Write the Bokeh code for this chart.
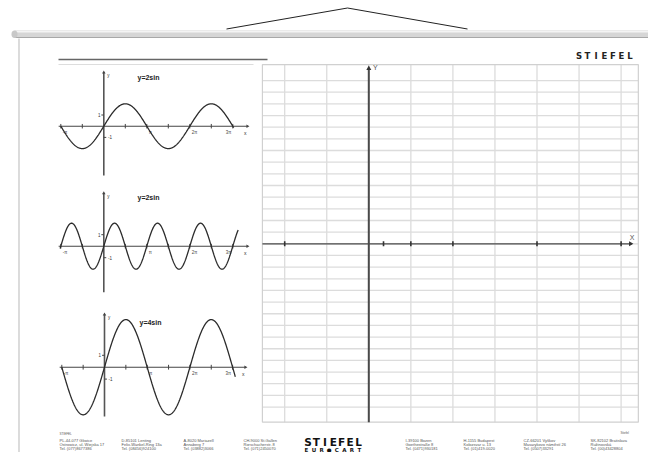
import numpy as np
from bokeh.plotting import figure
from bokeh.models import Range1d
from bokeh.embed import file_html
from bokeh.resources import INLINE
from bokeh.core.properties import value

# ---------------- data ----------------
panel_titles = ["y=2sin", "y=2sin", "y=4sin"]
panel_amplitude = [2, 2, 4]
panel_frequency = [1, 2, 1]
panel_x_start = [-1.0, -1.016, -1.0]   # multiples of pi
panel_x_end = [3.02, 3.124, 3.064]     # multiples of pi
half_pi_ticks = [-2, -1, 1, 2, 3, 4, 5, 6]
pi_labels = ["-π", "π", "2π", "3π"]
pi_label_at = [-1, 1, 2, 3]
unit_labels = ["1", "-1"]
unit_label_at = [1, -1]

grid_x_lines = [-2, -1, 0, 1, 2, 3, 4, 5, 6]
grid_y_lines = list(range(-14, 15))
grid_x_ticks = [-2, 0.35, 1, 2, 4, 6]

brand = list("STIEFEL")
brand_sub = ["E", "U", "R", "●", "C", "A", "R", "T"]
addresses = [
    ["PL-44-077 Gliwice", "Ostrowicz, ul. Wiejska 17", "Tel. (077)8677386"],
    ["D-85101 Lenting", "Felix-Wankel-Ring 13a", "Tel. (08456)924100"],
    ["A-8020 Mariazell", "Annaberg 7", "Tel. (03882)3066"],
    ["CH-9000 St.Gallen", "Rorschacherstr. 8", "Tel. (071)2450070"],
    ["I-39100 Bozen", "Goethestraße 8", "Tel. (0471)930181"],
    ["H-1155 Budapest", "Kolozsvar u. 13", "Tel. (01)419-0020"],
    ["CZ-66201 Vyškov", "Masarykovo náměstí 26", "Tel. (0507)33291"],
    ["SK-82102 Bratislava", "Ružinovská", "Tel. (00)43428804"],
]

# ---------------- layout (pixel space of the picture) ----------------
FONT = value("Liberation Sans")
LOGO_FONT = value("DejaVu Sans")
XL, XR, YB, YT = 0, 648, 452, 0
P_ORIG = [(103.3, 125.7), (103.3, 245.7), (104.0, 366.7)]
P_SX = [43 / np.pi, 43 / np.pi, 42.7 / np.pi]
P_SY = [11.2, 11.5, 11.9]
P_YAX = [(-4.4, 4.8), (-4.0, 4.6), (-4.14, 4.43)]
P_XAX = [(-1.05, 3.34), (-1.05, 3.34), (-1.05, 3.30)]
P_TITLE = [(137, 77), (137, 196.7), (139, 321.7)]

G_ORIG = (368.3, 243.3)
G_SX, G_SY = 42.05, 11.66
G_LEFT, G_RIGHT, G_TOP, G_BOTTOM = -2.53, 6.41, 15.37, -15.3

xr, yr = {}, {}
for i, (ox, oy) in enumerate(P_ORIG):
    xr[f"p{i}x"] = Range1d((XL - ox) / P_SX[i], (XR - ox) / P_SX[i])
    yr[f"p{i}y"] = Range1d((oy - YB) / P_SY[i], (oy - YT) / P_SY[i])
xr["gx"] = Range1d((XL - G_ORIG[0]) / G_SX, (XR - G_ORIG[0]) / G_SX)
yr["gy"] = Range1d((G_ORIG[1] - YB) / G_SY, (G_ORIG[1] - YT) / G_SY)

p = figure(width=648, height=452, output_backend="svg", toolbar_location=None,
           x_range=Range1d(XL, XR), y_range=Range1d(YB, YT),
           x_axis_type=None, y_axis_type=None, min_border=0)
p.outline_line_color = None
p.background_fill_color = "white"
p.border_fill_color = "white"
p.extra_x_ranges = xr
p.extra_y_ranges = yr

# ---------------- hanger, rod, page ----------------
p.line([226, 347, 467], [28.5, 7.5, 28.5], line_color="#222222", line_width=1)
p.quad(left=[14], right=[664], top=[30], bottom=[37.5], fill_color="#d6d6d6", line_color=None)
p.segment(x0=[14], y0=[31.3], x1=[664], y1=[31.3], line_color="#f4f4f4", line_width=1.6)
p.segment(x0=[14], y0=[37], x1=[664], y1=[37], line_color="#a8a8a8", line_width=1)
p.ellipse(x=[14], y=[33.7], width=6, height=7.5, fill_color="#c8c8c8", line_color=None)
p.segment(x0=[18.5], y0=[38], x1=[18.5], y1=[460], line_color="#c4c4c4", line_width=1.2)

# header
p.segment(x0=[58], y0=[59], x1=[267], y1=[59], line_color="#666666", line_width=1.3)
p.segment(x0=[58], y0=[64], x1=[253], y1=[64], line_color="#dddddd", line_width=1)
p.text(x=list(np.linspace(578.5, 629.5, len(brand))), y=[55.5] * len(brand), text=brand,
       text_font=LOGO_FONT, text_font_style="bold", text_font_size="8.5px",
       text_align="center", text_baseline="middle", text_color="#222222")

# ---------------- sine panels ----------------
for i in range(3):
    xn, yn = f"p{i}x", f"p{i}y"
    kw = dict(x_range_name=xn, y_range_name=yn)
    x0, x1 = P_XAX[i]
    y0, y1 = P_YAX[i]
    ax_col = "#444444"
    p.segment(x0=[x0 * np.pi], y0=[0], x1=[x1 * np.pi], y1=[0], line_color=ax_col, line_width=1.1, **kw)
    p.segment(x0=[0], y0=[y0], x1=[0], y1=[y1], line_color="#555555", line_width=1.6, **kw)
    t = np.array(half_pi_ticks) * np.pi / 2
    p.segment(x0=t, y0=[-0.2] * len(t), x1=t, y1=[0.2] * len(t), line_color=ax_col, line_width=1, **kw)
    p.segment(x0=[-0.18, 0], y0=unit_label_at, x1=[0, 0.18], y1=unit_label_at, line_color=ax_col, line_width=1, **kw)
    p.scatter(x=[x1 * np.pi], y=[0], marker="triangle", angle=-np.pi / 2, size=3.5,
              fill_color=ax_col, line_color=None, **kw)
    p.scatter(x=[0], y=[y1], marker="triangle", size=3.5, fill_color=ax_col, line_color=None, **kw)
    p.text(x=[0.25], y=[y1 - 0.05], text=["y"], text_font=FONT, text_font_size="4.5px",
           text_baseline="top", text_color="#333333", **kw)
    p.text(x=[x1 * np.pi - 0.15], y=[-0.3], text=["x"], text_font=FONT, text_font_size="5px",
           text_baseline="top", text_align="center", text_color="#333333", **kw)
    p.text(x=[-0.25], y=[1], text=[unit_labels[0]], text_font=FONT, text_font_size="4.5px",
           text_baseline="middle", text_align="right", text_color="#333333", **kw)
    p.text(x=[0.3], y=[-1], text=[unit_labels[1]], text_font=FONT, text_font_size="4.5px",
           text_baseline="middle", text_align="left", text_color="#333333", **kw)
    for lab, k in zip(pi_labels, pi_label_at):
        align = "right" if k == 3 else "left"
        off = -1.5 if k == 3 else 2
        p.text(x=[k * np.pi], y=[-0.35], text=[lab], x_offset=off, text_font=FONT,
               text_font_size="4.5px", text_baseline="top", text_align=align,
               text_color="#444444", **kw)
    xs = np.linspace(panel_x_start[i] * np.pi, panel_x_end[i] * np.pi, 500)
    ys = panel_amplitude[i] * np.sin(panel_frequency[i] * xs)
    p.line(xs, ys, line_color="#2b2b2b", line_width=1.3, **kw)
    tx, ty = P_TITLE[i]
    p.text(x=[tx], y=[ty], text=[panel_titles[i]], text_font=FONT, text_font_style="bold",
           text_font_size="7px", text_baseline="middle", text_color="#222222")

# ---------------- big grid ----------------
gkw = dict(x_range_name="gx", y_range_name="gy")
gl = "#dcdcdc"
p.segment(x0=grid_x_lines, y0=[G_BOTTOM] * len(grid_x_lines), x1=grid_x_lines,
          y1=[G_TOP] * len(grid_x_lines), line_color=gl, line_width=1.3, **gkw)
p.segment(x0=[G_LEFT] * len(grid_y_lines), y0=grid_y_lines, x1=[G_RIGHT] * len(grid_y_lines),
          y1=grid_y_lines, line_color=gl, line_width=1.3, **gkw)
p.quad(left=[G_LEFT], right=[G_RIGHT], top=[G_TOP], bottom=[G_BOTTOM], fill_color=None,
       line_color="#d0d0d0", line_width=1.2, **gkw)
p.segment(x0=[G_LEFT], y0=[0], x1=[G_RIGHT - 0.15], y1=[0], line_color="#4a4a4a", line_width=1.3, **gkw)
p.segment(x0=[0], y0=[G_BOTTOM], x1=[0], y1=[G_TOP - 0.3], line_color="#4a4a4a", line_width=2, **gkw)
p.segment(x0=grid_x_ticks, y0=[-0.22] * len(grid_x_ticks), x1=grid_x_ticks,
          y1=[0.22] * len(grid_x_ticks), line_color="#333333", line_width=1.6, **gkw)
p.scatter(x=[(630 - G_ORIG[0]) / G_SX], y=[0], marker="triangle", angle=-np.pi / 2, size=5,
          fill_color="#333333", line_color=None, **gkw)
p.scatter(x=[0], y=[(G_ORIG[1] - 68) / G_SY], marker="triangle", size=5,
          fill_color="#333333", line_color=None, **gkw)
p.text(x=[0.1], y=[(G_ORIG[1] - 66.5) / G_SY], text=["Y"], text_font=FONT, text_font_size="7px",
       text_baseline="middle", text_color="#555555", **gkw)
p.text(x=[(631.5 - G_ORIG[0]) / G_SX], y=[(G_ORIG[1] - 236.5) / G_SY], text=["X"], text_font=FONT,
       text_font_size="7px", text_baseline="middle", text_align="center", text_color="#555555", **gkw)

# ---------------- footer ----------------
p.text(x=[59], y=[433.5], text=["STIEFEL"], text_font=FONT, text_font_size="3px",
       text_baseline="middle", text_color="#555555")
p.text(x=[620], y=[432.5], text=["Stiefel"], text_font=FONT, text_font_size="3px",
       text_baseline="middle", text_color="#555555")
addr_x = [59, 121, 183, 243, 405, 463, 523, 590]
line_y = [440, 444, 448]
fx, fy, ft = [], [], []
for ax, block in zip(addr_x, addresses):
    for ly, s in zip(line_y, block):
        fx.append(ax); fy.append(ly); ft.append(s)
p.text(x=fx, y=fy, text=ft, text_font=FONT, text_font_size="4px", text_baseline="middle",
       text_color="#555555")
p.text(x=list(np.linspace(307.5, 358, len(brand))), y=[441.3] * len(brand), text=brand,
       text_font=LOGO_FONT, text_font_style="bold", text_font_size="10.5px", text_align="center",
       text_baseline="middle", text_color="#111111")
p.text(x=list(np.linspace(306, 359, len(brand_sub))), y=[449.2] * len(brand_sub), text=brand_sub,
       text_font=LOGO_FONT, text_font_style="bold", text_font_size="5.5px", text_align="center",
       text_baseline="middle", text_color="#111111")

open("out.html", "w").write(file_html(p, INLINE))
